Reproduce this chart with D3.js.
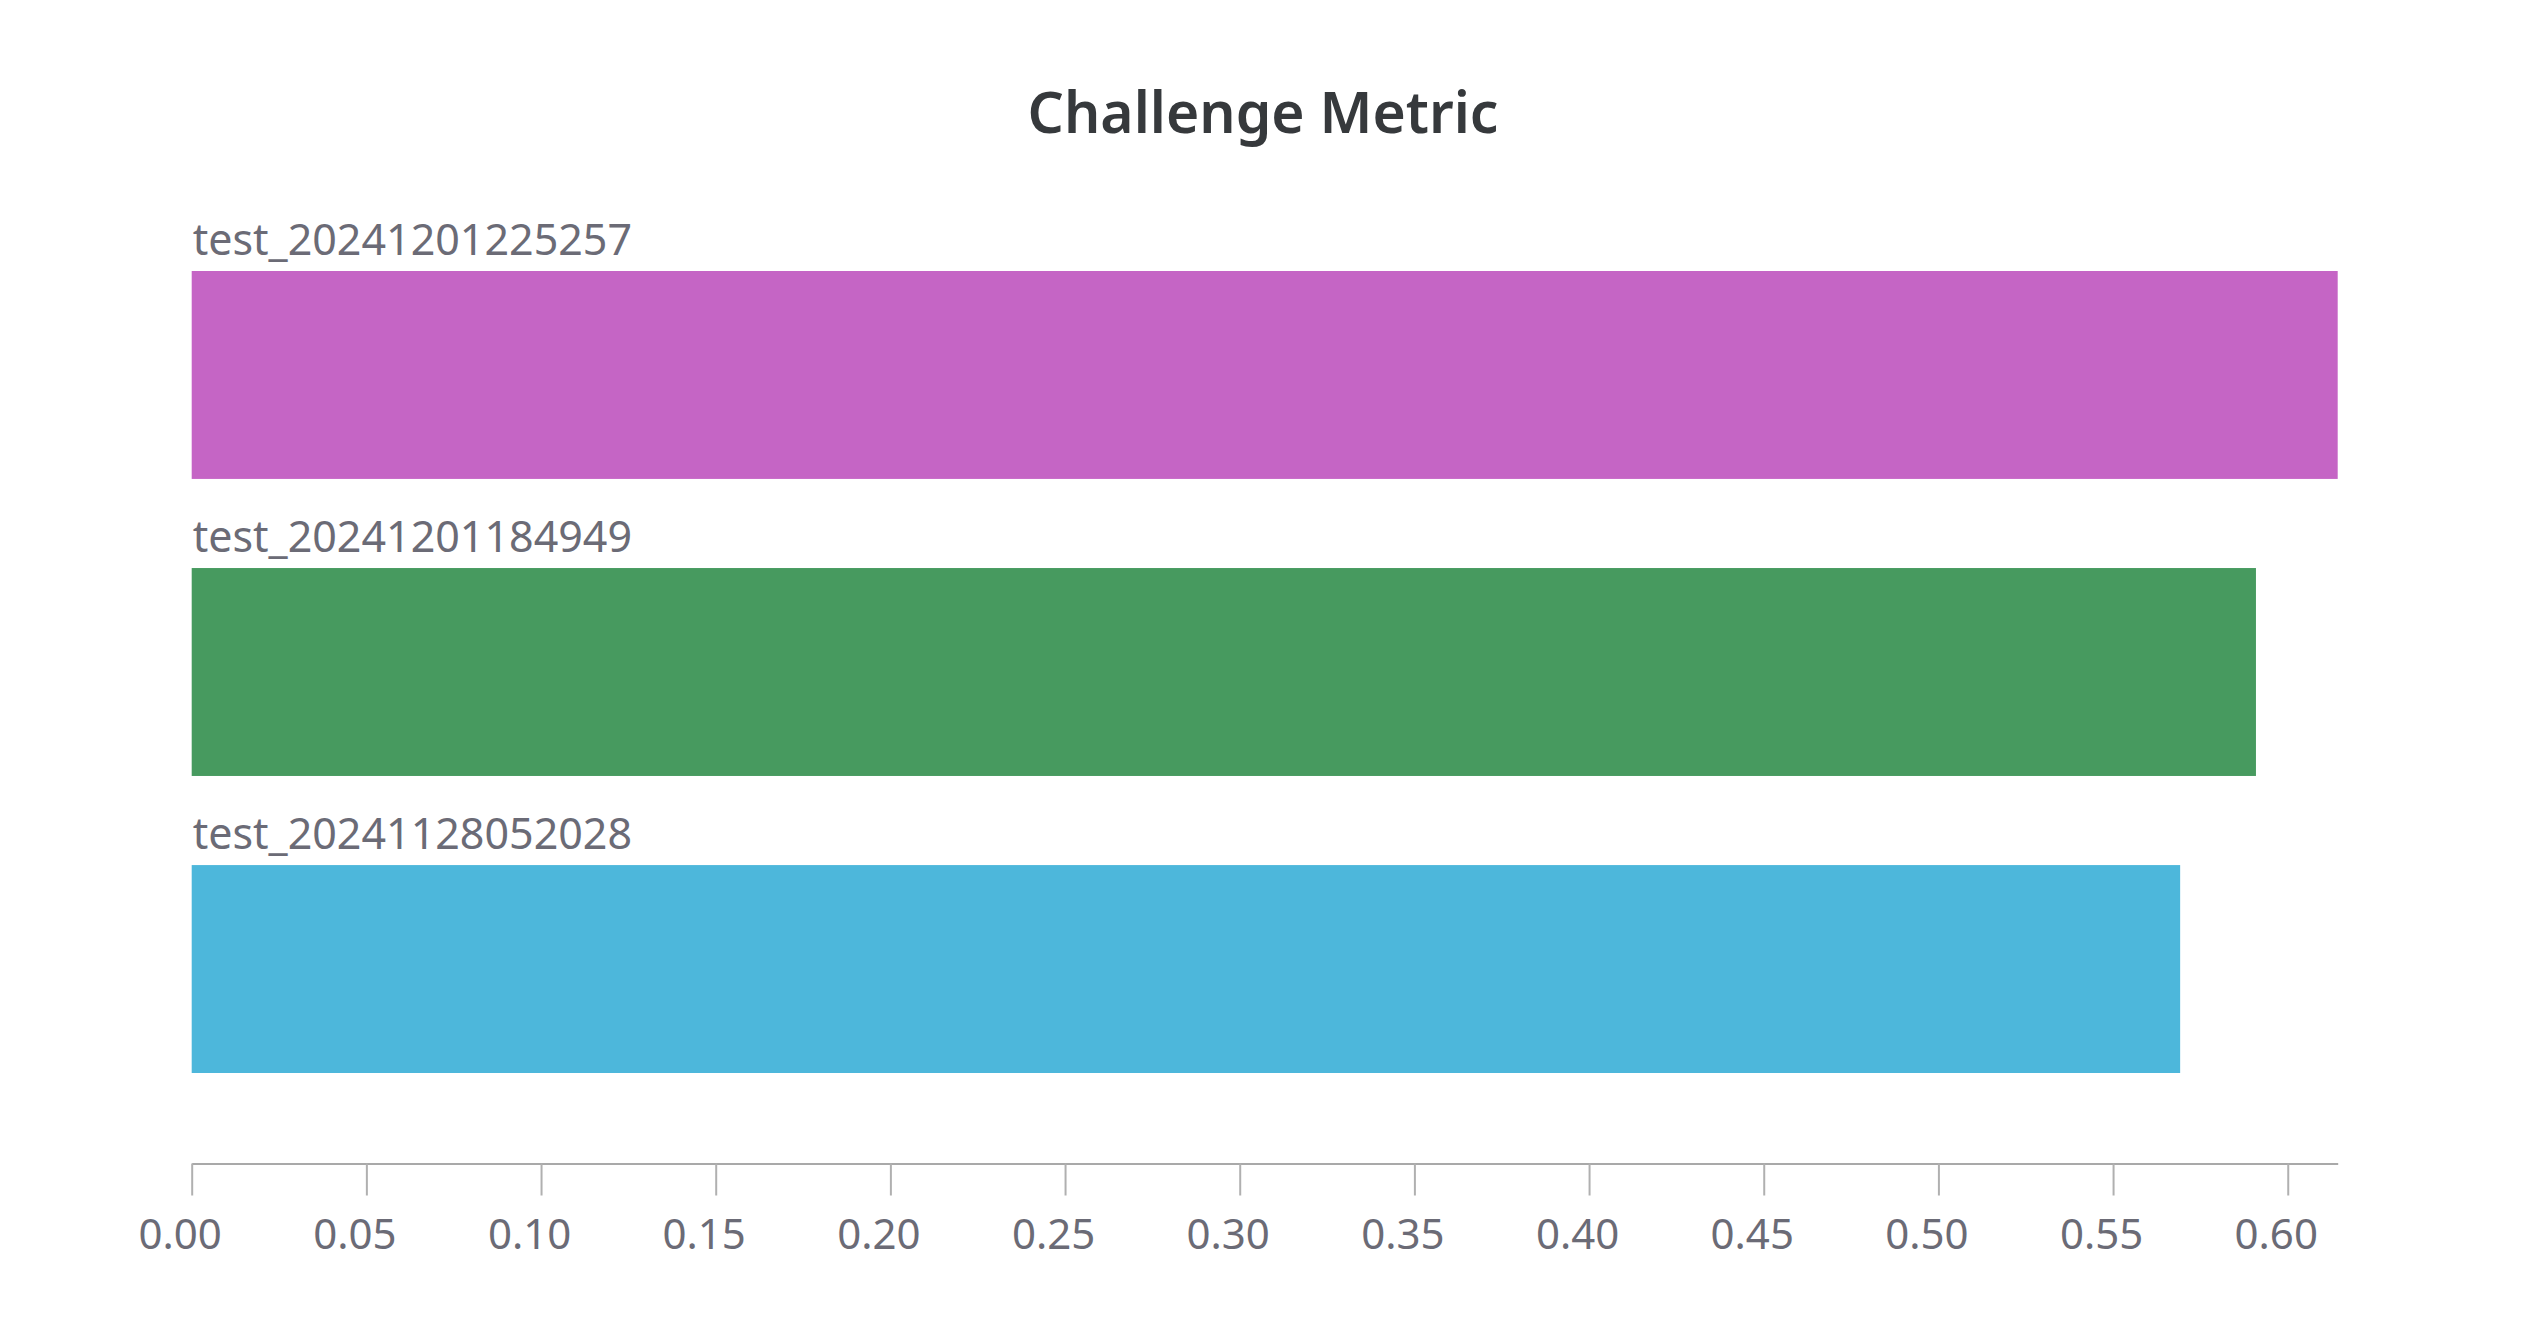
<!DOCTYPE html>
<html>
<head>
<meta charset="utf-8">
<script src="https://cdn.jsdelivr.net/npm/d3@7"></script>
<style>
  html, body { margin: 0; padding: 0; background: #ffffff; }
  svg { display: block; }
</style>
</head>
<body>
<svg id="chart" width="2528" height="1328"></svg>
<script>
const runs = ["test_20241201225257", "test_20241201184949", "test_20241128052028"];
const values = [0.6143, 0.5909, 0.5692];
const colors = ["#c565c5", "#479a5f", "#4db7db"];
const tickValues = [0, 0.05, 0.10, 0.15, 0.20, 0.25, 0.30, 0.35, 0.40, 0.45, 0.50, 0.55, 0.60];
const title = "Challenge Metric";

const FONT = "'Source Sans Pro', 'Noto Sans', sans-serif";
const svg = d3.select("#chart");

const x = d3.scaleLinear().domain([0, d3.max(values)]).range([191.7, 2337.7]);
const y = d3.scaleBand().domain(runs).range([271, 1073]).paddingInner(0.3).paddingOuter(0);

svg.append("text")
  .attr("x", 1263).attr("y", 133)
  .attr("text-anchor", "middle")
  .attr("font-family", FONT)
  .attr("font-weight", 600)
  .attr("font-size", 57)
  .attr("fill", "#36393c")
  .text(title);

const data = runs.map((r, i) => ({ run: r, value: values[i], color: colors[i] }));

svg.append("g").selectAll("rect").data(data).join("rect")
  .attr("x", x(0))
  .attr("y", d => y(d.run))
  .attr("width", d => x(d.value) - x(0))
  .attr("height", y.bandwidth())
  .attr("fill", d => d.color);

svg.append("g").selectAll("text").data(data).join("text")
  .attr("x", x(0) + 1)
  .attr("y", d => y(d.run) - 16)
  .attr("font-family", FONT)
  .attr("font-size", 43)
  .attr("fill", "#6b6b76")
  .text(d => d.run);

const axis = d3.axisBottom(x)
  .tickValues(tickValues)
  .tickFormat(d3.format(".2f"))
  .tickSizeInner(32)
  .tickSizeOuter(0)
  .tickPadding(24);

const gx = svg.append("g").attr("transform", "translate(0,1163.5)").call(axis);
gx.select(".domain").attr("stroke", "#a9a9a9").attr("stroke-width", 2);
gx.selectAll(".tick line").attr("stroke", "#b0b0b0").attr("stroke-width", 2);
gx.selectAll(".tick text")
  .attr("dx", -12)
  .attr("font-family", FONT)
  .attr("font-size", 42)
  .attr("fill", "#6b6b76");
</script>
</body>
</html>
